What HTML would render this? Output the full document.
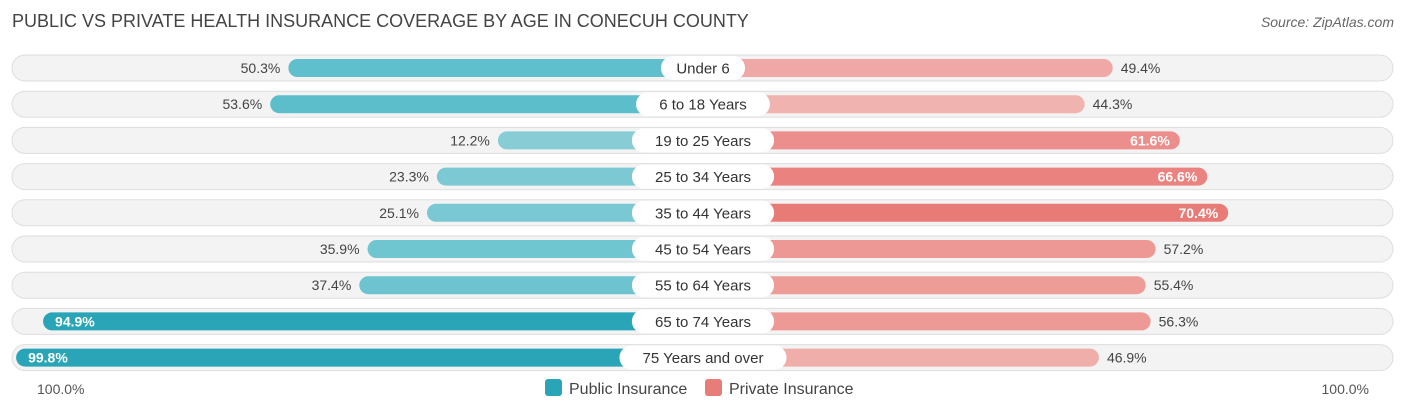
<!DOCTYPE html>
<html><head><meta charset="utf-8"><style>
body{margin:0;background:#fff;font-family:"Liberation Sans",sans-serif;}
svg text{font-family:"Liberation Sans",sans-serif;}
</style></head><body>
<svg id="c" width="1406" height="413">
<text x="12" y="27" font-size="18" fill="#444">PUBLIC VS PRIVATE HEALTH INSURANCE COVERAGE BY AGE IN CONECUH COUNTY</text>
<text x="1394" y="27" font-size="14" fill="#666" font-style="italic" text-anchor="end">Source: ZipAtlas.com</text>
<g id="rows"></g>
<text x="37" y="394" font-size="14" fill="#555">100.0%</text>
<text x="1369" y="394" font-size="14" fill="#555" text-anchor="end">100.0%</text>
<g>
<rect x="545" y="379" width="17" height="17" rx="3" fill="#2aa5b8"/>
<text x="569" y="394" font-size="16" fill="#444">Public Insurance</text>
<rect x="705" y="379" width="17" height="17" rx="3" fill="#e87c78"/>
<text x="729" y="394" font-size="16" fill="#444">Private Insurance</text>
</g>
</svg>
<script>
const categories=["Under 6","6 to 18 Years","19 to 25 Years","25 to 34 Years","35 to 44 Years","45 to 54 Years","55 to 64 Years","65 to 74 Years","75 Years and over"];
const publicValues=[50.3,53.6,12.2,23.3,25.1,35.9,37.4,94.9,99.8];
const privateValues=[49.4,44.3,61.6,66.6,70.4,57.2,55.4,56.3,46.9];
const NS="http://www.w3.org/2000/svg";
const g=document.getElementById('rows');
const center=703, s=5.5, pubOrigin=565, privOrigin=841;
function xPub(v){return pubOrigin-v*s;}
function xPriv(v){return privOrigin+v*s;}
function rowY(i){return 68+i*36.2;}
function mix(a,b,t){return 'rgb('+a.map((c,k)=>Math.round(c+(b[k]-c)*t)).join(',')+')';}
function el(tag,attrs,parent){const e=document.createElementNS(NS,tag);for(const k in attrs)e.setAttribute(k,attrs[k]);parent.appendChild(e);return e;}
categories.forEach((cat,i)=>{
 const y=rowY(i);
 const bg=el('rect',{x:12,y:y-13,width:1381,height:26,rx:13,fill:'#f3f3f3',stroke:'#dedede','stroke-width':1},g);
 
 
 const pv=publicValues[i], qv=privateValues[i];
 const tp=Math.min(1,Math.max(0,(pv-10)/60));
 const x0=xPub(pv);
 const pb=el('rect',{x:x0,y:y-9,width:center-x0,height:18,rx:9,fill:pv>80?'#2aa5b8':mix([138,206,215],[75,184,199],tp)},g);
 
 
 const tq=Math.min(1,Math.max(0,(qv-44)/27));
 const x1=xPriv(qv);
 const qb=el('rect',{x:center,y:y-9,width:x1-center,height:18,rx:9,fill:mix([241,180,177],[233,122,118],tq)},g);
 
 
 const inPub=pv>80;
 const tl=el('text',{x:inPub?x0+12:x0-8,y:y+5,'font-size':14,fill:inPub?'#fff':'#444','text-anchor':inPub?'start':'end','font-weight':inPub?'bold':'normal'},g);
 tl.textContent=pv.toFixed(1)+'%';
 
 
 const inPriv=qv>60;
 const tr=el('text',{x:inPriv?x1-10:x1+8,y:y+5,'font-size':14,fill:inPriv?'#fff':'#444','text-anchor':inPriv?'end':'start','font-weight':inPriv?'bold':'normal'},g);
 tr.textContent=qv.toFixed(1)+'%';
 
 
 const w=cat.length*8.3+26;
 const lb=el('rect',{x:center-w/2,y:y-12,width:w,height:24,rx:12,fill:'#fff'},g);
 
 
 const lt=el('text',{x:center,y:y+5.5,'font-size':15,fill:'#333','text-anchor':'middle'},g);
 lt.textContent=cat;
 
 
});
</script>
</body></html>
